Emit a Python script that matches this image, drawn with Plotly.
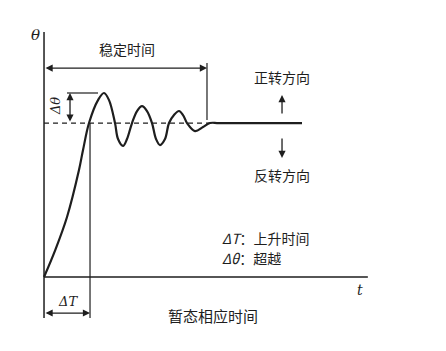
import plotly.graph_objects as go

# Response curve (t in units of rise time ΔT, θ normalized to target = 1)
resp_t = [0.0, 0.25, 0.5, 0.76, 0.848, 0.978, 1.174, 1.304, 1.413, 1.543, 1.609, 1.717,
          1.804, 1.913, 2.022, 2.130, 2.239, 2.348, 2.435, 2.522, 2.630, 2.717, 2.826,
          2.935, 3.022, 3.109, 3.283, 3.457, 3.609, 3.8, 5.609]
resp_theta = [0.0, 0.18, 0.39, 0.695, 0.825, 1.0, 1.149, 1.195, 1.149, 1.0, 0.896, 0.851,
              0.896, 1.0, 1.078, 1.110, 1.078, 1.0, 0.896, 0.857, 0.896, 1.0, 1.052,
              1.078, 1.052, 1.0, 0.948, 0.974, 1.0, 1.0, 1.0]

target = 1.0
rise_time = 1.0
settle_time = 3.543
overshoot_peak = 1.195
t_axis_end = 7.04
theta_axis_top = 1.591
guide_bottom = -0.266

x_range = [-0.957, 8.739]
y_range = [-0.4805, 1.799]

INK = "#1e1e1e"
CJK = "Noto Sans CJK SC"

fig = go.Figure()

# target dashed line
fig.add_trace(go.Scatter(x=[0, 3.65], y=[target, target], mode="lines",
                         line=dict(color=INK, width=1.2, dash="5px,4px"), hoverinfo="skip"))
# response curve
fig.add_trace(go.Scatter(x=resp_t, y=resp_theta, mode="lines",
                         line=dict(color=INK, width=2.2, shape="spline", smoothing=1.0),
                         hoverinfo="skip"))

shapes = [
    # axes
    dict(type="line", x0=0, x1=0, y0=guide_bottom, y1=theta_axis_top, line=dict(color=INK, width=1.5)),
    dict(type="line", x0=0, x1=t_axis_end, y0=0, y1=0, line=dict(color=INK, width=1.5)),
    # rise time guide
    dict(type="line", x0=rise_time, x1=rise_time, y0=target, y1=guide_bottom, line=dict(color=INK, width=1.2)),
    # settle time guide
    dict(type="line", x0=settle_time, x1=settle_time, y0=1.02, y1=1.39, line=dict(color=INK, width=1.2)),
    # overshoot top guide
    dict(type="line", x0=0.5, x1=1.174, y0=overshoot_peak, y1=overshoot_peak, line=dict(color=INK, width=1.2)),
]

def arrow(x, y, ax, ay, both=False):
    return dict(x=x, y=y, ax=ax, ay=ay, xref="x", yref="y", axref="x", ayref="y",
                text="", showarrow=True, arrowhead=2, arrowsize=1.1, arrowwidth=1.3,
                arrowcolor=INK, arrowside="end+start" if both else "end",
                standoff=0, startstandoff=0)

annotations = [
    arrow(settle_time, 1.357, 0, 1.357, both=True),
    arrow(rise_time, -0.234, 0, -0.234, both=True),
    arrow(0.565, overshoot_peak, 0.565, target, both=True),
    arrow(5.174, 1.182, 5.174, 1.052),
    arrow(5.174, 0.773, 5.174, 0.909),
]

def label(x, y, text, size=14, xanchor="center", family=CJK, angle=0):
    return dict(x=x, y=y, xref="x", yref="y", text=text, showarrow=False,
                xanchor=xanchor, yanchor="middle", textangle=angle,
                font=dict(family=family, size=size, color=INK))

annotations += [
    label(-0.196, 1.571, "<i>θ</i>", size=15, family="DejaVu Serif"),
    label(1.804, 1.481, "稳定时间"),
    label(0.239, 1.11, "<i>Δθ</i>", size=13, family="DejaVu Serif", angle=-90),
    label(5.174, 1.299, "正转方向"),
    label(5.174, 0.662, "反转方向"),
    label(3.826, 0.253, "<i>ΔT</i>：上升时间", xanchor="left"),
    label(3.826, 0.123, "<i>Δθ</i>：超越", xanchor="left"),
    label(6.87, -0.084, "<i>t</i>", size=14, family="DejaVu Serif"),
    label(0.522, -0.162, "<i>ΔT</i>", size=13, family="DejaVu Serif"),
    label(3.674, -0.253, "暂态相应时间", size=15),
]

fig.update_layout(
    width=446, height=351, autosize=False,
    margin=dict(l=0, r=0, t=0, b=0),
    paper_bgcolor="white", plot_bgcolor="white",
    showlegend=False,
    xaxis=dict(range=x_range, visible=False, fixedrange=True),
    yaxis=dict(range=y_range, visible=False, fixedrange=True),
    shapes=shapes, annotations=annotations,
)

fig.write_html("out.html", config=dict(displayModeBar=False))
